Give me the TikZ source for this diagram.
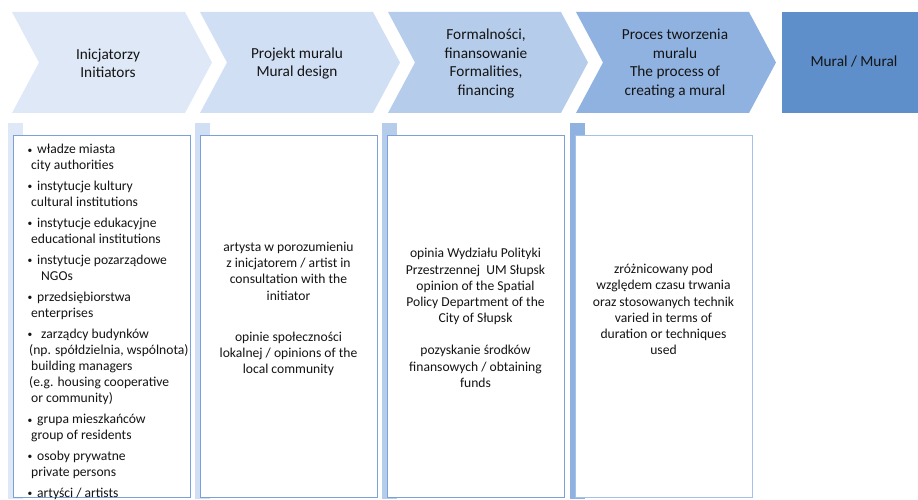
\documentclass[tikz,border=0pt]{standalone}
\usepackage{fontspec}
\setmainfont{Carlito}
\definecolor{chevA}{RGB}{223,232,246}
\definecolor{chevB}{RGB}{209,223,244}
\definecolor{chevC}{RGB}{181,204,235}
\definecolor{chevD}{RGB}{144,178,224}
\definecolor{muralblue}{RGB}{95,143,203}
\definecolor{boxline}{RGB}{122,162,216}
\definecolor{boxlineD}{RGB}{165,193,232}
\definecolor{inktext}{RGB}{20,20,20}
\newcommand{\bul}{\makebox[10pt][l]{\hspace*{0.5pt}\raisebox{0.6pt}{\scalebox{0.7}{\textbullet}}}}
\tikzset{
	headtext/.style={align=center,text=inktext,font=\fontsize{15.3}{18.5}\selectfont},
	bodytext/.style={align=center,text=inktext,font=\fontsize{13.6}{16.2}\selectfont},
	listtext/.style={align=left,text=inktext,inner sep=0pt,font=\fontsize{13.6}{16.2}\selectfont}
}
\begin{document}
\begin{tikzpicture}[x=1pt,y=-1pt]
			\useasboundingbox (0,0) rectangle (918,500);
			% steps of the process
			\foreach \x/\c in {12/chevA,200/chevB,388/chevC,576/chevD}
			\fill[\c] (\x,12)--++(173,0)--++(27,50.5)--++(-27,50.5)--++(-173,0)--++(27,-50.5)--cycle;
			\fill[muralblue] (782,12) rectangle (918,113);
			\node[headtext] (initiators) at (108,63.5) {Inicjatorzy\\ Initiators};
			\node[headtext] (design) at (297,63.5) {Projekt muralu\\ Mural design};
			\node[headtext] (formal) at (486,63.5) {Formalności,\\ finansowanie\\ Formalities,\\ financing};
			\node[headtext] (process) at (675,63.5) {Proces tworzenia\\ muralu\\ The process of\\ creating a mural};
			\node[headtext] (mural) at (854,62) {Mural / Mural};
			% boxes below the steps
			\foreach \x/\c/\b in {13/chevA/boxline,200/chevB/boxline,387/chevC/boxline,575/chevD/boxlineD}{
			\fill[\c] (\x-5,123) rectangle ++(15,376);
			\draw[\b,fill=white,line width=0.9pt] (\x,135) rectangle ++(177,362);
			}
			\node[listtext,anchor=north west] (whoinit) at (27,144) {\bul władze miasta\\
				\hspace*{4pt}city authorities\\[4.5pt]
				\bul instytucje kultury\\
				\hspace*{4pt}cultural institutions\\[4.5pt]
				\bul instytucje edukacyjne\\
				\hspace*{4pt}educational institutions\\[4.5pt]
				\bul instytucje pozarządowe\\
				\hspace*{14pt}NGOs\\[4.5pt]
				\bul przedsiębiorstwa\\
				\hspace*{4pt}enterprises\\[4.5pt]
				\bul\hspace*{4pt}zarządcy budynków\\
				\hspace*{2pt}(np. spółdzielnia, wspólnota)\\
				\hspace*{4pt}building managers\\
				\hspace*{2pt}(e.g. housing cooperative\\
				\hspace*{4pt}or community)\\[4.5pt]
				\bul grupa mieszkańców\\
				\hspace*{4pt}group of residents\\[4.5pt]
				\bul osoby prywatne\\
				\hspace*{4pt}private persons\\[4.5pt]
				\bul artyści / artists};
			\node[bodytext] (designtxt) at (288.5,309) {artysta w porozumieniu\\ z inicjatorem / artist in\\ consultation with the\\ initiator\\[25pt] opinie społeczności\\ lokalnej / opinions of the\\ local community};
			\node[bodytext] (formaltxt) at (475.5,318) {opinia Wydziału Polityki\\ Przestrzennej~ UM Słupsk\\ opinion of the Spatial\\ Policy Department of the\\ City of Słupsk\\[16pt] pozyskanie środków\\ finansowych / obtaining\\ funds};
			\node[bodytext] (processtxt) at (663.5,309.5) {zróżnicowany pod\\ względem czasu trwania\\ oraz stosowanych technik\\ varied in terms of\\ duration or techniques\\ used};
		\end{tikzpicture}
\end{document}
